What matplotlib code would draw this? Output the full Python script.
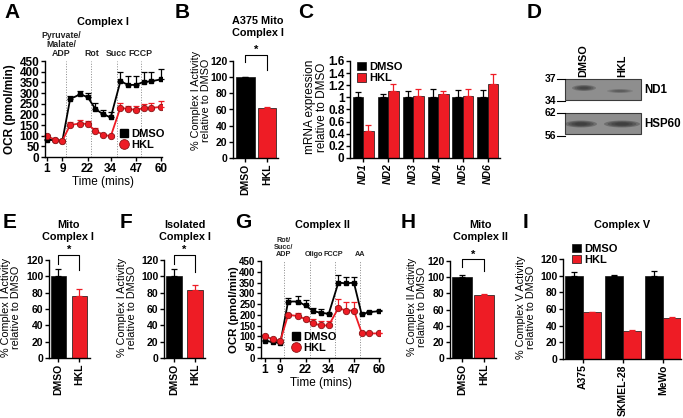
import matplotlib.pyplot as plt
from matplotlib.patches import Rectangle, Ellipse
from matplotlib.lines import Line2D

plt.rcParams['font.family'] = ['Liberation Sans', 'DejaVu Sans']
plt.rcParams['font.weight'] = 'bold'
plt.rcParams['axes.linewidth'] = 1

RED = '#ee1c25'
BLK = '#000000'

# A / G: Seahorse time course
time = [1, 5, 9, 13, 18, 22, 26, 30, 34, 39, 43, 47, 51, 55, 60]
time_ticks = [1, 9, 22, 34, 47, 60]

c1_dmso = [82, 78, 76, 272, 293, 282, 226, 200, 186, 355, 338, 338, 352, 355, 364]
c1_dmso_err = [3, 3, 3, 16, 18, 20, 28, 22, 23, 45, 40, 42, 45, 45, 48]
c1_hkl = [98, 82, 77, 150, 157, 155, 123, 105, 97, 232, 224, 222, 228, 230, 235]
c1_hkl_err = [3, 3, 3, 16, 17, 16, 15, 5, 4, 22, 16, 16, 19, 25, 27]
c1_inject = [11, 24, 37, 49.5]
c1_labels = ['Pyruvate/\nMalate/\nADP', 'Rot', 'Succ', 'FCCP']

c2_dmso = [80, 74, 70, 262, 262, 244, 217, 210, 205, 350, 346, 350, 203, 213, 217]
c2_dmso_err = [4, 4, 3, 15, 27, 25, 15, 18, 5, 34, 30, 27, 5, 4, 4]
c2_hkl = [102, 87, 80, 200, 195, 180, 161, 151, 151, 232, 220, 220, 118, 114, 114]
c2_hkl_err = [3, 3, 3, 5, 15, 12, 19, 19, 19, 44, 41, 41, 4, 3, 3]
c2_inject = [11, 24.5, 37, 50]
c2_labels = ['Rot/\nSucc/\nADP', 'Oligo', 'FCCP', 'AA']

# B, E, F, H: two bar panels
groups2 = ['DMSO', 'HKL']
b_vals, b_err = [100, 62], [0.5, 0.5]
e_vals, e_err = [100, 76], [9, 9]
f_vals, f_err = [100, 83], [9, 7]
h_vals, h_err = [100, 78], [3, 1]

# C: mRNA
genes = ['ND1', 'ND2', 'ND3', 'ND4', 'ND5', 'ND6']
c_dmso = [1, 1, 1, 1, 1, 1]
c_dmso_err = [0.09, 0.06, 0.11, 0.14, 0.12, 0.12]
c_hkl = [0.45, 1.10, 1.03, 1.06, 1.03, 1.22]
c_hkl_err = [0.10, 0.12, 0.11, 0.05, 0.11, 0.16]

# I: Complex V
cells = ['A375', 'SKMEL-28', 'MeWo']
i_dmso = [100, 100, 100]
i_dmso_err = [5, 1, 6]
i_hkl = [56, 34, 49]
i_hkl_err = [1, 1, 1]

W, H = 683, 418
fig = plt.figure(figsize=(W / 100, H / 100), dpi=100)


def px_axes(x0, y0, x1, y1):
    return fig.add_axes([x0 / W, 1 - y1 / H, (x1 - x0) / W, (y1 - y0) / H])


def ftext(x, y, s, **kw):
    kw.setdefault('ha', 'center')
    kw.setdefault('va', 'center')
    fig.text(x / W, 1 - y / H, s, **kw)


def style(ax, ymax, step, fs=7.5):
    ax.spines[['top', 'right']].set_visible(False)
    ax.set_ylim(0, ymax)
    ax.set_yticks(range(0, ymax + 1, step))
    ax.tick_params(length=3, width=1, labelsize=fs, pad=1)


def upper_err(ax, x, y, e, color):
    ax.errorbar(x, y, yerr=[[0] * len(e), e], fmt='none', ecolor=color,
                elinewidth=0.9, capsize=2, capthick=0.9, clip_on=False)


def bracket(ax, top, left, right, star_y):
    ax.plot([0, 0, 1, 1], [left, top, top, right], color=BLK, lw=0.8, clip_on=False)
    ax.text(0.5, star_y, '*', ha='center', va='center', fontsize=8, clip_on=False)


def time_panel(ax, dm, dme, hk, hke, inject, labels, lab_dx, xmin, fs, lab_fs, leg_xy):
    for t in inject:
        ax.plot([t, t], [0, 450], color='#888888', lw=0.7, ls=':')
    upper_err(ax, time, dm, dme, BLK)
    upper_err(ax, time, hk, hke, RED)
    ax.plot(time, dm, color=BLK, lw=1.3, marker='s', ms=2.8)
    ax.plot(time, hk, color=RED, lw=1.3, marker='o', ms=4.6, mec='#8a1515', mew=0.6)
    ax.set_xlim(xmin, 60.5)
    ax.set_xticks(time_ticks)
    style(ax, 450, 50, fs=fs)
    ax.tick_params(axis='x', labelsize=8.5)
    ax.set_xlabel('Time (mins)', fontsize=8.5, labelpad=1)
    for t, s, dx in zip(inject, labels, lab_dx):
        ax.text(t + dx, 462, s, ha='center', va='bottom', fontsize=lab_fs,
                color='#222222', linespacing=1.05)
    handles = [Line2D([], [], ls='none', marker='s', ms=6, color=BLK),
               Line2D([], [], ls='none', marker='o', ms=7, color=RED, mec='#8a1515',
                      mew=0.6)]
    ax.legend(handles, ['DMSO', 'HKL'], loc='upper left', bbox_to_anchor=leg_xy,
              frameon=False, fontsize=8, handlelength=0.8, handletextpad=0.2,
              labelspacing=0.1, borderpad=0.0, borderaxespad=0.0)


def two_bars(ax, vals, errs, xl, width):
    ax.bar([0, 1], vals, width=width, color=[BLK, RED], edgecolor='#111111', lw=0.5)
    upper_err(ax, [0], vals[:1], errs[:1], BLK)
    upper_err(ax, [1], vals[1:], errs[1:], RED)
    ax.set_xlim(*xl)
    ax.set_xticks([0, 1], groups2, rotation=90)
    style(ax, 120, 20)


# ---- A
axA = px_axes(45, 61, 162, 157)
time_panel(axA, c1_dmso, c1_dmso_err, c1_hkl, c1_hkl_err, c1_inject, c1_labels,
           [-2.5, 0, 0, 0], 0, 8.5, 6.3, (0.64, 0.29))
ftext(103, 22, 'Complex I', fontsize=7.8)
ftext(10, 109, 'OCR (pmol/min)', rotation=90, fontsize=8.5)

# ---- B
axB = px_axes(233, 61, 278, 158)
two_bars(axB, b_vals, b_err, (-0.58, 1.51), 0.88)
bracket(axB, 127.5, 119, 109, 134)
ftext(258, 27, 'A375 Mito\nComplex I', fontsize=7.8, linespacing=1.2)
ftext(201, 100, '% Complex I Activity\nrelative to DMSO', rotation=90,
      fontsize=7.8, fontweight='normal', linespacing=1.1)

# ---- C
axC = px_axes(350, 61, 500, 158)
xs = range(len(genes))
bw = 0.42
xd = [x - bw / 2 for x in xs]
xh = [x + bw / 2 for x in xs]
axC.bar(xd, c_dmso, width=bw, color=BLK, edgecolor='#111111', lw=0.5, label='DMSO')
axC.bar(xh, c_hkl, width=bw, color=RED, edgecolor='#111111', lw=0.5, label='HKL')
upper_err(axC, xd, c_dmso, c_dmso_err, BLK)
upper_err(axC, xh, c_hkl, c_hkl_err, RED)
axC.set_xlim(-0.52, 5.48)
axC.set_ylim(0, 1.6)
axC.set_yticks([0, 0.2, 0.4, 0.6, 0.8, 1, 1.2, 1.4, 1.6],
               ['0', '0.2', '0.4', '0.6', '0.8', '1', '1.2', '1.4', '1.6'])
axC.set_xticks(list(xs), genes, rotation=90, fontstyle='italic')
axC.spines[['top', 'right']].set_visible(False)
axC.tick_params(length=3, width=1, labelsize=8.5, pad=1)
axC.tick_params(axis='x', labelsize=7.5)
axC.legend(loc='upper left', bbox_to_anchor=(0.0, 1.06), frameon=False, fontsize=8,
           handlelength=0.8, handleheight=0.8, handletextpad=0.3, labelspacing=0.1,
           borderpad=0.1)
ftext(316, 107, 'mRNA expression\nrelative to DMSO', rotation=90, fontsize=8.5,
      fontweight='normal', linespacing=1.05)

# ---- D (western blot)
axD = px_axes(480, 0, 683, 200)
axD.set_xlim(480, 683)
axD.set_ylim(200, 0)
axD.axis('off')
for top in (79, 113):
    axD.add_patch(Rectangle((565, top), 76, 21, facecolor='#8e8e8e',
                            edgecolor='#3a3a3a', lw=0.8))
blot_bands = [(584, 88, 24, 6, 0.75), (620, 91, 26, 4, 0.45),
              (581, 124, 32, 7, 0.9), (622, 124, 36, 7, 0.9)]
for cx, cy, w, h, a in blot_bands:
    for k in range(4):
        f = 1 - 0.2 * k
        axD.add_patch(Ellipse((cx, cy), w * f, h * f, facecolor='#2a2a2a',
                              edgecolor='none', alpha=a * 0.35))
for y, s in [(79, '37'), (101, '34'), (113, '62'), (136, '56')]:
    axD.plot([557, 565], [y, y], color=BLK, lw=0.8)
    axD.text(556, y, s, ha='right', va='center', fontsize=7.5)
axD.text(644, 90, 'ND1', ha='left', va='center', fontsize=8.3)
axD.text(644, 124, 'HSP60', ha='left', va='center', fontsize=8.3)
axD.text(583, 77, 'DMSO', rotation=90, ha='center', va='bottom', fontsize=7.8)
axD.text(622, 77, 'HKL', rotation=90, ha='center', va='bottom', fontsize=7.8)

# ---- E
axE = px_axes(49, 260, 90, 358)
two_bars(axE, e_vals, e_err, (-0.45, 1.5), 0.72)
bracket(axE, 126, 115, 108, 132)
ftext(68, 231, 'Mito\nComplex I', fontsize=7.8, linespacing=1.2)
ftext(11, 307, '% Complex I Activity\nrelative to DMSO', rotation=90,
      fontsize=7.8, fontweight='normal', linespacing=1.1)

# ---- F
axF = px_axes(164, 260, 205, 358)
two_bars(axF, f_vals, f_err, (-0.48, 1.48), 0.76)
bracket(axF, 126, 115, 105, 132)
ftext(185, 231, 'Isolated\nComplex I', fontsize=7.8, linespacing=1.2)
ftext(127, 307, '% Complex I Activity\nrelative to DMSO', rotation=90,
      fontsize=7.8, fontweight='normal', linespacing=1.1)

# ---- G
axG = px_axes(261, 261, 380, 358)
time_panel(axG, c2_dmso, c2_dmso_err, c2_hkl, c2_hkl_err, c2_inject, c2_labels,
           [-0.5, 1.9, -0.5, 0], -1, 7, 5.2, (0.26, 0.27))
ftext(322, 225, 'Complex II', fontsize=7.8)
ftext(234, 310, 'OCR (pmol/min)', rotation=90, fontsize=8.2)

# ---- H
axH = px_axes(450, 261, 496, 358)
two_bars(axH, h_vals, h_err, (-0.58, 1.56), 0.93)
bracket(axH, 122, 112, 108, 127)
ftext(480, 231, 'Mito\nComplex II', fontsize=7.8, linespacing=1.2)
ftext(417, 307, '% Complex II Activity\nrelative to DMSO', rotation=90,
      fontsize=7.6, fontweight='normal', linespacing=1.1)

# ---- I
axI = px_axes(563, 259, 681, 359)
xs3 = range(len(cells))
bw3 = 0.44
xd3 = [x - bw3 / 2 for x in xs3]
xh3 = [x + bw3 / 2 for x in xs3]
axI.bar(xd3, i_dmso, width=bw3, color=BLK, edgecolor='#111111', lw=0.5, label='DMSO')
axI.bar(xh3, i_hkl, width=bw3, color=RED, edgecolor='#111111', lw=0.5, label='HKL')
upper_err(axI, xd3, i_dmso, i_dmso_err, BLK)
upper_err(axI, xh3, i_hkl, i_hkl_err, RED)
axI.set_xlim(-0.5, 2.45)
axI.set_xticks(list(xs3), cells, rotation=90)
style(axI, 120, 20)
axI.legend(loc='upper left', bbox_to_anchor=(0.02, 1.22), frameon=False, fontsize=8,
           handlelength=0.8, handleheight=0.8, handletextpad=0.3, labelspacing=0.1,
           borderpad=0.1)
ftext(622, 225, 'Complex V', fontsize=7.8)
ftext(526, 307, '% Complex V Activity\nrelative to DMSO', rotation=90,
      fontsize=7.8, fontweight='normal', linespacing=1.1)

# panel letters
for x, y, s in [(12, 13, 'A'), (182, 12, 'B'), (306, 12, 'C'), (534, 12, 'D'),
                (10, 223, 'E'), (126, 223, 'F'), (243, 223, 'G'), (408, 223, 'H'),
                (525, 222, 'I')]:
    ftext(x, y, s, fontsize=15)

fig.savefig('out.png', dpi=100)
